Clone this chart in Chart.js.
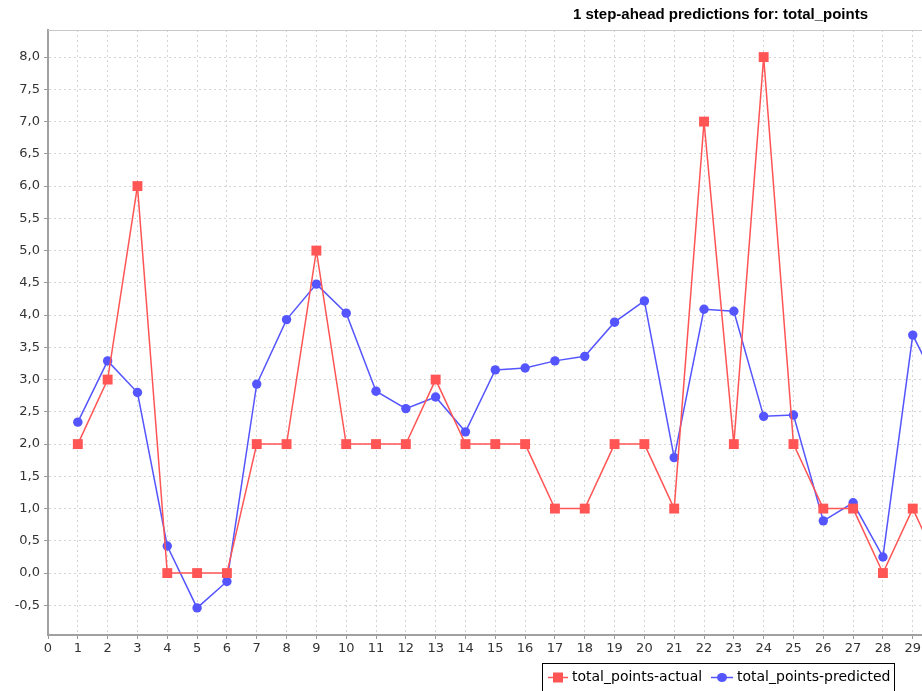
<!DOCTYPE html>
<html>
<head>
<meta charset="utf-8">
<script src="https://cdn.jsdelivr.net/npm/chart.js@4/dist/chart.umd.min.js"></script>
<style>
  html, body { margin: 0; padding: 0; background: #ffffff; }
  canvas { display: block; }
</style>
</head>
<body>
<canvas id="c" width="922" height="691"></canvas>
<script>
const chartTitle = "1 step-ahead predictions for: total_points";
const steps = [1,2,3,4,5,6,7,8,9,10,11,12,13,14,15,16,17,18,19,20,21,22,23,24,25,26,27,28,29,30];
const actual = [2,3,6,0,0,0,2,2,5,2,2,2,3,2,2,2,1,1,2,2,1,7,2,8,2,1,1,0,1,0];
const predicted = [2.34,3.29,2.80,0.42,-0.54,-0.13,2.93,3.93,4.48,4.03,2.82,2.55,2.73,2.19,3.15,3.18,3.29,3.36,3.89,4.22,1.79,4.09,4.06,2.43,2.45,0.81,1.09,0.25,3.69,2.77];
const seriesNames = ["total_points-actual", "total_points-predicted"];

const RED = "#ff5555";
const BLUE = "#5555ff";
const FONT = "'DejaVu Sans', sans-serif";

const toPoints = (ys) => steps.map((x, i) => ({ x: x, y: ys[i] }));

const extras = {
  id: 'extras',
  afterDraw(chart) {
    const ctx = chart.ctx;
    const a = chart.chartArea;
    ctx.save();
    // top outline of plot
    ctx.strokeStyle = '#c8c8c8';
    ctx.lineWidth = 1;
    ctx.beginPath();
    ctx.moveTo(a.left, a.top + 0.5);
    ctx.lineTo(a.right, a.top + 0.5);
    ctx.stroke();
    // title
    ctx.fillStyle = '#000';
    ctx.font = "bold 15px 'Liberation Sans', Arial, sans-serif";
    ctx.textAlign = 'right';
    ctx.textBaseline = 'alphabetic';
    ctx.fillText(chartTitle, 868, 19);
    // legend
    const bx = 542.5, by = 663.5, bw = 352, bh = 40;
    ctx.fillStyle = '#fff';
    ctx.fillRect(bx, by, bw, bh);
    ctx.strokeStyle = '#000';
    ctx.lineWidth = 1;
    ctx.strokeRect(bx, by, bw, bh);
    const ly = 677.5;
    const ds = chart.data.datasets;
    // item 1
    ctx.strokeStyle = ds[0].borderColor;
    ctx.lineWidth = 1.5;
    ctx.beginPath(); ctx.moveTo(548, ly); ctx.lineTo(568, ly); ctx.stroke();
    ctx.fillStyle = ds[0].pointBackgroundColor;
    ctx.fillRect(553, ly - 5, 10, 10);
    ctx.fillStyle = '#000';
    ctx.font = "14px " + FONT;
    ctx.textAlign = 'left';
    ctx.textBaseline = 'middle';
    ctx.fillText(ds[0].label, 572, ly);
    // item 2
    ctx.strokeStyle = ds[1].borderColor;
    ctx.beginPath(); ctx.moveTo(711, ly); ctx.lineTo(733, ly); ctx.stroke();
    ctx.fillStyle = ds[1].pointBackgroundColor;
    ctx.beginPath(); ctx.ellipse(722, ly, 5, 4.5, 0, 0, Math.PI * 2); ctx.fill();
    ctx.fillStyle = '#000';
    ctx.fillText(ds[1].label, 737, ly);
    ctx.restore();
  }
};

new Chart(document.getElementById('c'), {
  type: 'line',
  data: {
    datasets: [
      {
        label: seriesNames[0],
        data: toPoints(actual),
        borderColor: RED,
        backgroundColor: RED,
        pointBackgroundColor: RED,
        pointBorderColor: RED,
        pointStyle: 'rect',
        pointRadius: 7,
        pointBorderWidth: 0,
        borderWidth: 1.5,
        tension: 0,
        fill: false
      },
      {
        label: seriesNames[1],
        data: toPoints(predicted),
        borderColor: BLUE,
        backgroundColor: BLUE,
        pointBackgroundColor: BLUE,
        pointBorderColor: BLUE,
        pointStyle: 'circle',
        pointRadius: 4.7,
        pointBorderWidth: 0,
        borderWidth: 1.5,
        tension: 0,
        fill: false
      }
    ]
  },
  options: {
    responsive: false,
    animation: false,
    devicePixelRatio: 1,
    layout: { autoPadding: false, padding: { top: 30, right: 0, bottom: 0, left: 0 } },
    plugins: {
      legend: { display: false },
      title: { display: false },
      tooltip: { enabled: false }
    },
    scales: {
      x: {
        type: 'linear',
        min: 0,
        max: 29.31,
        afterFit(s) { s.height = 56; s.paddingLeft = 0; s.paddingRight = 0; },
        afterBuildTicks(s) { s.ticks = s.ticks.filter(t => Number.isInteger(t.value)); },
        ticks: {
          stepSize: 1,
          includeBounds: false,
          autoSkip: false,
          maxRotation: 0,
          padding: 2,
          color: '#333',
          font: { family: FONT, size: 13 }
        },
        grid: {
          color: '#d4d4d4',
          tickColor: '#999',
          tickLength: 4,
          lineWidth: 1
        },
        border: { color: '#a0a0a0', width: 2, dash: [2, 3] }
      },
      y: {
        type: 'linear',
        min: -0.96,
        max: 8.42,
        afterFit(s) { s.width = 48; s.paddingTop = 0; s.paddingBottom = 0; },
        afterBuildTicks(s) { s.ticks = s.ticks.filter(t => Math.abs(t.value * 2 - Math.round(t.value * 2)) < 1e-6); },
        ticks: {
          stepSize: 0.5,
          includeBounds: false,
          padding: 4,
          color: '#333',
          font: { family: FONT, size: 13 },
          callback: (v) => v.toFixed(1).replace('.', ',')
        },
        grid: {
          color: '#d4d4d4',
          tickColor: '#999',
          tickLength: 4,
          lineWidth: 1
        },
        border: { color: '#a0a0a0', width: 2, dash: [2, 3] }
      }
    }
  },
  plugins: [extras]
});
</script>
</body>
</html>
